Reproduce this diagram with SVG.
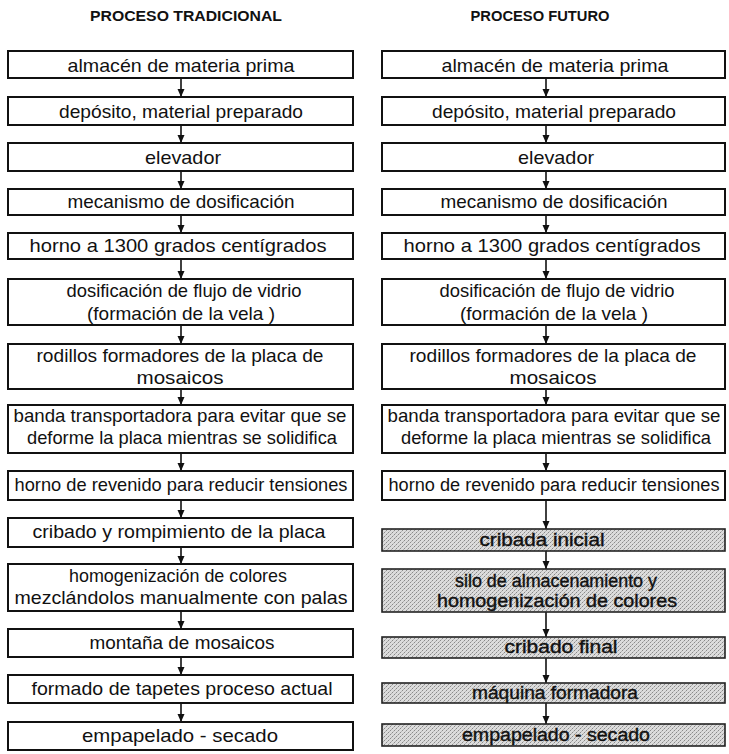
<svg xmlns="http://www.w3.org/2000/svg" width="729" height="754" viewBox="0 0 729 754">
<style>
.bg{fill:#ffffff}
.box{fill:#ffffff;stroke:#111;stroke-width:2}
.gbox{fill:url(#dots);stroke:#222;stroke-width:1.6}
.t{font-family:"Liberation Sans","DejaVu Sans",sans-serif;font-size:19px;fill:#111;text-anchor:middle}
.gt{font-family:"Liberation Sans","DejaVu Sans",sans-serif;font-size:18px;fill:#111;stroke:#111;stroke-width:0.4;text-anchor:middle}
.title{font-family:"Liberation Sans","DejaVu Sans",sans-serif;font-size:14px;font-weight:bold;fill:#111;text-anchor:middle}
.arr{stroke:#111;stroke-width:1.6;fill:none;marker-end:url(#ah)}
</style>
<defs>
<pattern id="dots" width="4" height="4" patternUnits="userSpaceOnUse">
<rect width="4" height="4" fill="#dcdcdc"/>
<rect x="0" y="0" width="1" height="1" fill="#8a8a8a"/>
<rect x="2" y="2" width="1" height="1" fill="#8a8a8a"/>
<rect x="3" y="1" width="1" height="1" fill="#b0b0b0"/>
<rect x="1" y="3" width="1" height="1" fill="#b8b8b8"/>
</pattern>
<marker id="ah" markerWidth="8" markerHeight="8" refX="8" refY="4" orient="auto" markerUnits="userSpaceOnUse" viewBox="0 0 8 8">
<path d="M0,0.5 L8,4 L0,7.5 Z" fill="#111"/>
</marker>
</defs>
<rect class="bg" width="729" height="754"/>

<text class="title" x="186" y="21" textLength="192" lengthAdjust="spacingAndGlyphs">PROCESO TRADICIONAL</text>
<text class="title" x="540" y="21" textLength="139" lengthAdjust="spacingAndGlyphs">PROCESO FUTURO</text>

<g id="connectors">
<line class="arr" x1="181" y1="78" x2="181" y2="97"/>
<line class="arr" x1="181" y1="125" x2="181" y2="143"/>
<line class="arr" x1="181" y1="171" x2="181" y2="189"/>
<line class="arr" x1="181" y1="215" x2="181" y2="233"/>
<line class="arr" x1="181" y1="259" x2="181" y2="279"/>
<line class="arr" x1="181" y1="325" x2="181" y2="344"/>
<line class="arr" x1="181" y1="389" x2="181" y2="405"/>
<line class="arr" x1="181" y1="453" x2="181" y2="471"/>
<line class="arr" x1="181" y1="500" x2="181" y2="518"/>
<line class="arr" x1="181" y1="547" x2="181" y2="564"/>
<line class="arr" x1="181" y1="611" x2="181" y2="629"/>
<line class="arr" x1="181" y1="657" x2="181" y2="675"/>
<line class="arr" x1="181" y1="703" x2="181" y2="722"/>

<line class="arr" x1="546" y1="78" x2="546" y2="97"/>
<line class="arr" x1="546" y1="125" x2="546" y2="143"/>
<line class="arr" x1="546" y1="171" x2="546" y2="189"/>
<line class="arr" x1="546" y1="215" x2="546" y2="233"/>
<line class="arr" x1="546" y1="259" x2="546" y2="279"/>
<line class="arr" x1="546" y1="325" x2="546" y2="344"/>
<line class="arr" x1="546" y1="389" x2="546" y2="405"/>
<line class="arr" x1="546" y1="453" x2="546" y2="471"/>
<line class="arr" x1="546" y1="500" x2="546" y2="529"/>
<line class="arr" x1="546" y1="551" x2="546" y2="569"/>
<line class="arr" x1="546" y1="612" x2="546" y2="637"/>
<line class="arr" x1="546" y1="658" x2="546" y2="683"/>
<line class="arr" x1="546" y1="703" x2="546" y2="724"/>
</g>

<g id="L1"><rect class="box" x="8" y="51" width="345" height="27"/><text class="t" x="181" y="72" textLength="227" lengthAdjust="spacingAndGlyphs">almacén de materia prima</text></g>
<g id="L2"><rect class="box" x="8" y="97" width="345" height="28"/><text class="t" x="181" y="118" textLength="244" lengthAdjust="spacingAndGlyphs">depósito, material preparado</text></g>
<g id="L3"><rect class="box" x="8" y="143" width="345" height="28"/><text class="t" x="183" y="164" textLength="76" lengthAdjust="spacingAndGlyphs">elevador</text></g>
<g id="L4"><rect class="box" x="8" y="189" width="345" height="26"/><text class="t" x="181" y="208" textLength="227" lengthAdjust="spacingAndGlyphs">mecanismo de dosificación</text></g>
<g id="L5"><rect class="box" x="8" y="233" width="345" height="26"/><text class="t" x="178" y="252" textLength="297" lengthAdjust="spacingAndGlyphs">horno a 1300 grados centígrados</text></g>
<g id="L6"><rect class="box" x="8" y="279" width="345" height="46"/><text class="t" x="184" y="297" textLength="235" lengthAdjust="spacingAndGlyphs">dosificación de flujo de vidrio</text><text class="t" x="181" y="320" textLength="188" lengthAdjust="spacingAndGlyphs">(formación de la vela )</text></g>
<g id="L7"><rect class="box" x="8" y="344" width="345" height="45"/><text class="t" x="180" y="362" textLength="287" lengthAdjust="spacingAndGlyphs">rodillos formadores de la placa de</text><text class="t" x="180" y="384" textLength="87" lengthAdjust="spacingAndGlyphs">mosaicos</text></g>
<g id="L8"><rect class="box" x="8" y="405" width="345" height="48"/><text class="t" x="180" y="422" textLength="333" lengthAdjust="spacingAndGlyphs">banda transportadora para evitar que se</text><text class="t" x="182" y="444" textLength="310" lengthAdjust="spacingAndGlyphs">deforme la placa mientras se solidifica</text></g>
<g id="L9"><rect class="box" x="8" y="471" width="345" height="29"/><text class="t" x="181" y="491" textLength="333" lengthAdjust="spacingAndGlyphs">horno de revenido para reducir tensiones</text></g>
<g id="L10"><rect class="box" x="8" y="518" width="345" height="29"/><text class="t" x="179" y="538" textLength="293" lengthAdjust="spacingAndGlyphs">cribado y rompimiento de la placa</text></g>
<g id="L11"><rect class="box" x="8" y="564" width="345" height="47"/><text class="t" x="178" y="582" textLength="218" lengthAdjust="spacingAndGlyphs">homogenización de colores</text><text class="t" x="181" y="604" textLength="333" lengthAdjust="spacingAndGlyphs">mezclándolos manualmente con palas</text></g>
<g id="L12"><rect class="box" x="8" y="629" width="345" height="28"/><text class="t" x="182" y="649" textLength="185" lengthAdjust="spacingAndGlyphs">montaña de mosaicos</text></g>
<g id="L13"><rect class="box" x="8" y="675" width="345" height="28"/><text class="t" x="182" y="695" textLength="301" lengthAdjust="spacingAndGlyphs">formado de tapetes proceso actual</text></g>
<g id="L14"><rect class="box" x="8" y="722" width="345" height="28"/><text class="t" x="180" y="742" textLength="196" lengthAdjust="spacingAndGlyphs">empapelado - secado</text></g>

<g id="R1"><rect class="box" x="382" y="51" width="343" height="27"/><text class="t" x="555" y="72" textLength="227" lengthAdjust="spacingAndGlyphs">almacén de materia prima</text></g>
<g id="R2"><rect class="box" x="382" y="97" width="343" height="28"/><text class="t" x="554" y="118" textLength="244" lengthAdjust="spacingAndGlyphs">depósito, material preparado</text></g>
<g id="R3"><rect class="box" x="382" y="143" width="343" height="28"/><text class="t" x="556" y="164" textLength="76" lengthAdjust="spacingAndGlyphs">elevador</text></g>
<g id="R4"><rect class="box" x="382" y="189" width="343" height="26"/><text class="t" x="554" y="208" textLength="227" lengthAdjust="spacingAndGlyphs">mecanismo de dosificación</text></g>
<g id="R5"><rect class="box" x="382" y="233" width="343" height="26"/><text class="t" x="552" y="252" textLength="297" lengthAdjust="spacingAndGlyphs">horno a 1300 grados centígrados</text></g>
<g id="R6"><rect class="box" x="382" y="279" width="343" height="46"/><text class="t" x="557" y="297" textLength="235" lengthAdjust="spacingAndGlyphs">dosificación de flujo de vidrio</text><text class="t" x="554" y="320" textLength="188" lengthAdjust="spacingAndGlyphs">(formación de la vela )</text></g>
<g id="R7"><rect class="box" x="382" y="344" width="343" height="45"/><text class="t" x="553" y="362" textLength="287" lengthAdjust="spacingAndGlyphs">rodillos formadores de la placa de</text><text class="t" x="553" y="384" textLength="87" lengthAdjust="spacingAndGlyphs">mosaicos</text></g>
<g id="R8"><rect class="box" x="382" y="405" width="343" height="48"/><text class="t" x="554" y="422" textLength="333" lengthAdjust="spacingAndGlyphs">banda transportadora para evitar que se</text><text class="t" x="556" y="444" textLength="310" lengthAdjust="spacingAndGlyphs">deforme la placa mientras se solidifica</text></g>
<g id="R9"><rect class="box" x="382" y="471" width="343" height="29"/><text class="t" x="554" y="491" style="font-size:18px" textLength="331" lengthAdjust="spacingAndGlyphs">horno de revenido para reducir tensiones</text></g>
<g id="R10"><rect class="gbox" x="382" y="529" width="343" height="22"/><text class="gt" x="542" y="546" textLength="125" lengthAdjust="spacingAndGlyphs">cribada inicial</text></g>
<g id="R11"><rect class="gbox" x="382" y="569" width="343" height="43"/><text class="gt" x="556" y="587" textLength="202" lengthAdjust="spacingAndGlyphs">silo de almacenamiento y</text><text class="gt" x="557" y="607" textLength="240" lengthAdjust="spacingAndGlyphs">homogenización de colores</text></g>
<g id="R12"><rect class="gbox" x="382" y="637" width="343" height="21"/><text class="gt" x="561" y="653" textLength="113" lengthAdjust="spacingAndGlyphs">cribado final</text></g>
<g id="R13"><rect class="gbox" x="382" y="683" width="343" height="20"/><text class="gt" x="555" y="699" textLength="166" lengthAdjust="spacingAndGlyphs">máquina formadora</text></g>
<g id="R14"><rect class="gbox" x="382" y="724" width="343" height="22"/><text class="gt" x="556" y="741" textLength="188" lengthAdjust="spacingAndGlyphs">empapelado - secado</text></g>
</svg>
